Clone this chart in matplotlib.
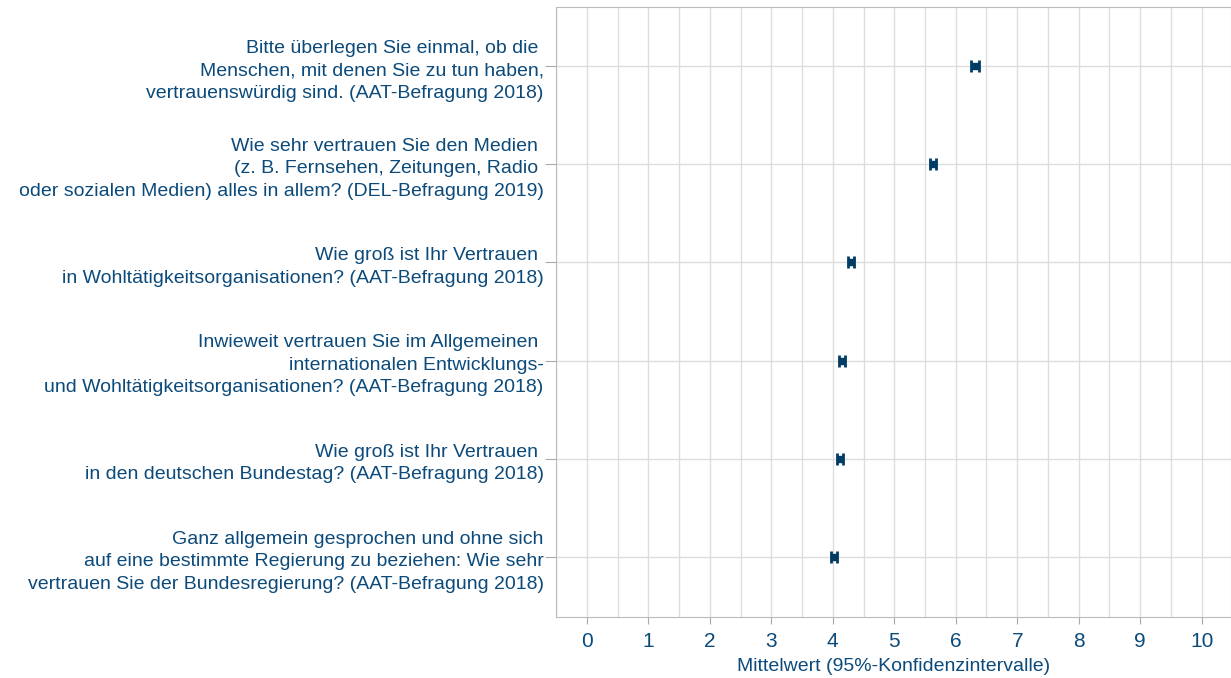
import numpy as np
import matplotlib.pyplot as plt
from matplotlib.ticker import MultipleLocator

plt.rcParams['font.family'] = ['Liberation Sans', 'DejaVu Sans']

labels = [
    "Bitte überlegen Sie einmal, ob die \nMenschen, mit denen Sie zu tun haben,\nvertrauenswürdig sind. (AAT-Befragung 2018)",
    "Wie sehr vertrauen Sie den Medien \n(z. B. Fernsehen, Zeitungen, Radio \noder sozialen Medien) alles in allem? (DEL-Befragung 2019)",
    "Wie groß ist Ihr Vertrauen \nin Wohltätigkeitsorganisationen? (AAT-Befragung 2018)",
    "Inwieweit vertrauen Sie im Allgemeinen \ninternationalen Entwicklungs-\nund Wohltätigkeitsorganisationen? (AAT-Befragung 2018)",
    "Wie groß ist Ihr Vertrauen \nin den deutschen Bundestag? (AAT-Befragung 2018)",
    "Ganz allgemein gesprochen und ohne sich\nauf eine bestimmte Regierung zu beziehen: Wie sehr\nvertrauen Sie der Bundesregierung? (AAT-Befragung 2018)",
]
means = [6.31, 5.63, 4.29, 4.15, 4.12, 4.02]
ci_low = [6.25, 5.58, 4.24, 4.10, 4.07, 3.97]
ci_high = [6.38, 5.68, 4.34, 4.20, 4.17, 4.07]

navy = "#003c64"
text_col = "#0b4a7a"
grid_col = "#dddddd"

fig = plt.figure(figsize=(12.31, 6.78), dpi=100)
ax = fig.add_axes([0.4517, 0.09, 0.548, 0.8997])

y = np.arange(len(means))[::-1]
m = np.array(means)
err = [m - np.array(ci_low), np.array(ci_high) - m]
ax.errorbar(m, y, xerr=err, fmt='s', color=navy, ms=5, elinewidth=2,
            capsize=4, capthick=2, zorder=3)

ax.set_xlim(-0.5, 10.47)
ax.set_ylim(-0.61, 5.6)
ax.xaxis.set_major_locator(MultipleLocator(1))
ax.xaxis.set_minor_locator(MultipleLocator(0.5))
ax.set_yticks(y)
ax.set_yticklabels(labels, fontsize=14, color=text_col, linespacing=1.42, ha='right')
ax.grid(True, which='both', axis='x', color=grid_col, lw=1)
ax.grid(True, which='major', axis='y', color=grid_col, lw=1)
ax.set_axisbelow(True)
ax.tick_params(axis='x', which='major', labelsize=15, labelcolor=text_col,
               color='#aaaaaa', length=5, pad=6)
ax.tick_params(axis='x', which='minor', length=0)
ax.tick_params(axis='y', color='#aaaaaa', length=8, pad=1)
for s in ax.spines.values():
    s.set_color('#bbbbbb')
ax.set_xlabel("Mittelwert (95%-Konfidenzintervalle)", fontsize=14, color=text_col, labelpad=5)

fig.savefig("out.png", dpi=100)
